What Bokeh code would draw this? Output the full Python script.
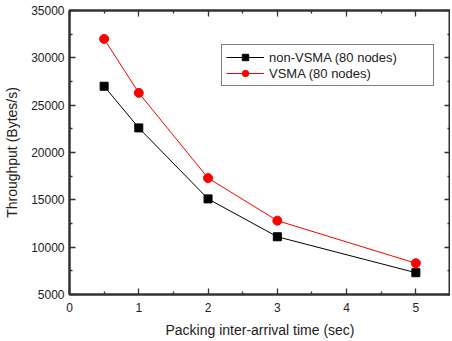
from bokeh.plotting import figure
from bokeh.models import Range1d, LinearAxis, FixedTicker, Legend, LegendItem
from bokeh.embed import file_html
from bokeh.resources import INLINE

x_vals = [0.5, 1, 2, 3, 5]
non_vsma = [27000, 22600, 15100, 11100, 7300]
vsma = [32000, 26300, 17300, 12800, 8300]
labels = ["non-VSMA (80 nodes)", "VSMA (80 nodes)"]
x_ticks = [0, 1, 2, 3, 4, 5]
y_ticks = [5000, 10000, 15000, 20000, 25000, 30000, 35000]

FONT = "Liberation Sans"
TXT = "#222222"

p = figure(width=450, height=340, output_backend="svg", toolbar_location=None,
           x_range=Range1d(0, 5.5), y_range=Range1d(5000, 35000),
           min_border_left=69, min_border_right=0, min_border_top=10, min_border_bottom=36)
p.grid.visible = False
p.outline_line_color = "#333333"
p.outline_line_width = 2
p.background_fill_color = "white"
p.border_fill_color = "white"

xt = FixedTicker(ticks=x_ticks, minor_ticks=[0.5, 1.5, 2.5, 3.5, 4.5, 5.5])
yt = FixedTicker(ticks=y_ticks, minor_ticks=[7500, 12500, 17500, 22500, 27500, 32500])

def style(ax, show_labels=True):
    ax.major_tick_in = 6
    ax.major_tick_out = 0
    ax.minor_tick_in = 3
    ax.minor_tick_out = 0
    ax.axis_line_width = 2
    ax.major_tick_line_width = 1.3
    ax.minor_tick_line_width = 1.3
    ax.axis_line_color = "#333333"
    ax.major_tick_line_color = "#333333"
    ax.minor_tick_line_color = "#333333"
    ax.major_label_text_font = FONT
    ax.major_label_text_font_size = "12px"
    ax.major_label_text_color = TXT
    ax.axis_label_text_font = FONT
    ax.axis_label_text_font_size = "14px"
    ax.axis_label_text_font_style = "normal"
    ax.axis_label_text_color = TXT
    if not show_labels:
        ax.major_label_text_alpha = 0
        ax.major_label_text_font_size = "1px"
        ax.major_label_standoff = 0

p.xaxis.ticker = xt
p.yaxis.ticker = yt
style(p.xaxis[0])
style(p.yaxis[0])
p.xaxis.axis_label = "Packing inter-arrival time (sec)"
p.yaxis.axis_label = "Throughput (Bytes/s)"
p.xaxis.major_label_standoff = 8
p.yaxis.major_label_standoff = 5
p.xaxis.axis_label_standoff = 7
p.yaxis.axis_label_standoff = 8

top = LinearAxis(ticker=xt)
style(top, False)
p.add_layout(top, "above")
right = LinearAxis(ticker=yt)
style(right, False)
p.add_layout(right, "right")

l1 = p.line(x_vals, non_vsma, line_color="black", line_width=1)
s1 = p.scatter(x_vals, non_vsma, marker="square", size=8, fill_color="black", line_color="black")
l2 = p.line(x_vals, vsma, line_color="red", line_width=1)
s2 = p.scatter(x_vals, vsma, marker="circle", size=9, fill_color="red", line_color="red")

legend = Legend(items=[LegendItem(label=labels[0], renderers=[l1, s1]),
                       LegendItem(label=labels[1], renderers=[l2, s2])],
                location=(152, 208), orientation="vertical")
legend.border_line_color = "black"
legend.border_line_width = 1.2
legend.label_text_font = FONT
legend.label_text_font_size = "13px"
legend.label_text_color = TXT
legend.glyph_width = 38
legend.glyph_height = 16
legend.label_height = 16
legend.label_width = 160
legend.spacing = 0
legend.padding = 4
legend.margin = 0
legend.label_standoff = 5
legend.background_fill_alpha = 1
p.add_layout(legend, "center")

open("out.html", "w").write(file_html(p, INLINE))
